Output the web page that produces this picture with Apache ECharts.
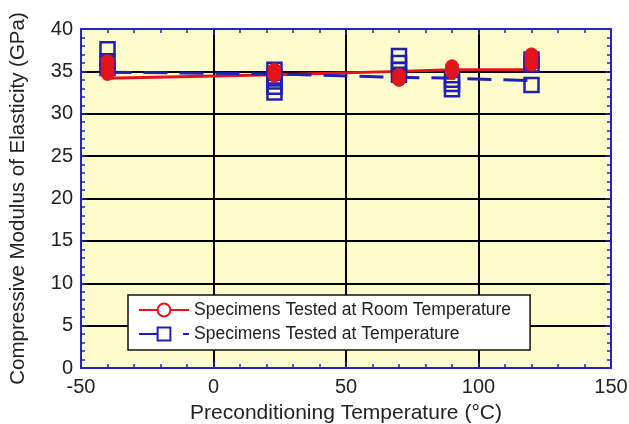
<!DOCTYPE html>
<html>
<head>
<meta charset="utf-8">
<script src="https://cdn.jsdelivr.net/npm/echarts@6/dist/echarts.min.js"></script>
<style>
html,body{margin:0;padding:0;background:#fff;}
#chart{width:629px;height:424px;}
</style>
</head>
<body>
<div id="chart"></div>
<script>
// Preconditioning temperatures (°C)
const temps = [-40, 23, 70, 90, 120];
// Connecting lines
const roomLine = [34.2, 34.6, 35.0, 35.2, 35.2];
const atTempLine = [34.9, 34.7, 34.3, 34.2, 33.9];
// Individual specimens (GPa)
const roomPoints = [
  [36.2, 35.6, 35.0, 34.7],
  [35.2, 34.9, 34.5],
  [34.6, 34.0],
  [35.6, 35.2, 34.9],
  [37.0, 36.4, 35.8]
];
const atTempPoints = [
  [37.6, 36.2, 35.4],
  [35.2, 34.4, 33.8, 33.2, 32.5],
  [36.8, 36.0, 35.2, 34.6],
  [34.0, 33.5, 32.9],
  [36.4, 35.8, 33.4]
];
const xTicks = { min: -50, max: 150, interval: 50 };
const yTicks = { min: 0, max: 40, interval: 5 };
const roomName = 'Specimens Tested at Room Temperature';
const atTempName = 'Specimens Tested at Temperature';

const RED = '#e3141c';
const BLUE = '#2020b0';
const AXIS = '#2424c0';
const FONT = 'Liberation Sans';

function flatten(points) {
  const out = [];
  points.forEach((vals, i) => vals.forEach(v => out.push([temps[i], v])));
  return out;
}

const chart = echarts.init(document.getElementById('chart'), null, { renderer: 'canvas' });

function tickCommon() {
  return {
    axisLine: { show: true, onZero: false, lineStyle: { color: AXIS, width: 2 } },
    axisTick: { show: true, inside: true, length: 6, lineStyle: { color: AXIS, width: 1.5 } },
    minorTick: { show: true, splitNumber: 5, length: 4, lineStyle: { color: AXIS, width: 1.5 } }
  };
}

chart.setOption({
  animation: false,
  backgroundColor: '#ffffff',
  grid: {
    left: 81, right: 18, top: 29, bottom: 56, show: true, backgroundColor: '#fffccc', borderWidth: 0,
    containLabel: false, outerBoundsMode: 'none'
  },
  xAxis: [
    Object.assign({
      type: 'value', min: xTicks.min, max: xTicks.max, interval: xTicks.interval, position: 'bottom',
      name: 'Preconditioning Temperature (°C)', nameLocation: 'middle', nameGap: 35,
      nameTextStyle: { fontFamily: FONT, fontSize: 21, color: '#222' },
      axisLabel: { fontFamily: FONT, fontSize: 20, color: '#222', margin: 9 },
      splitLine: { show: true, lineStyle: { color: '#000', width: 2 } }
    }, tickCommon()),
    Object.assign({
      type: 'value', min: xTicks.min, max: xTicks.max, interval: xTicks.interval, position: 'top',
      axisLabel: { show: false }, splitLine: { show: false }
    }, tickCommon())
  ],
  yAxis: [
    Object.assign({
      type: 'value', min: yTicks.min, max: yTicks.max, interval: yTicks.interval, position: 'left',
      name: 'Compressive Modulus of Elasticity (GPa)', nameLocation: 'middle', nameGap: 52,
      nameTextStyle: { fontFamily: FONT, fontSize: 20.5, color: '#222' },
      axisLabel: { fontFamily: FONT, fontSize: 20, color: '#222', margin: 8 },
      splitLine: { show: true, lineStyle: { color: '#000', width: 2 } }
    }, tickCommon()),
    Object.assign({
      type: 'value', min: yTicks.min, max: yTicks.max, interval: yTicks.interval, position: 'right',
      axisLabel: { show: false }, splitLine: { show: false }
    }, tickCommon())
  ],
  legend: {
    left: 128, top: 295, orient: 'vertical',
    backgroundColor: '#ffffff', borderColor: '#111', borderWidth: 1.5, borderRadius: 0,
    padding: [6, 19, 7, 10], itemGap: 6, itemWidth: 50, itemHeight: 16,
    textStyle: { fontFamily: FONT, fontSize: 17.5, color: '#222' },
    data: [
      { name: roomName },
      { name: atTempName, lineStyle: { type: [32, 12] } }
    ]
  },
  series: [
    {
      name: roomName, type: 'line', symbol: 'emptyCircle', showSymbol: false, z: 2,
      itemStyle: { color: RED },
      lineStyle: { color: RED, width: 3 },
      data: temps.map((t, i) => [t, roomLine[i]])
    },
    {
      name: atTempName, type: 'line', symbol: 'emptyRect', showSymbol: false, z: 2,
      itemStyle: { color: BLUE },
      lineStyle: { color: BLUE, width: 3, type: [24, 12] },
      data: temps.map((t, i) => [t, atTempLine[i]])
    },
    {
      name: atTempName, type: 'scatter', symbol: 'rect', symbolSize: 14, z: 3,
      itemStyle: { color: 'rgba(0,0,0,0)', borderColor: BLUE, borderWidth: 2.5, opacity: 1 },
      data: flatten(atTempPoints)
    },
    {
      name: roomName, type: 'scatter', symbol: 'circle', symbolSize: 13, z: 4,
      itemStyle: { color: RED, borderColor: RED, borderWidth: 1, opacity: 1 },
      data: flatten(roomPoints)
    }
  ]
});
</script>
</body>
</html>
